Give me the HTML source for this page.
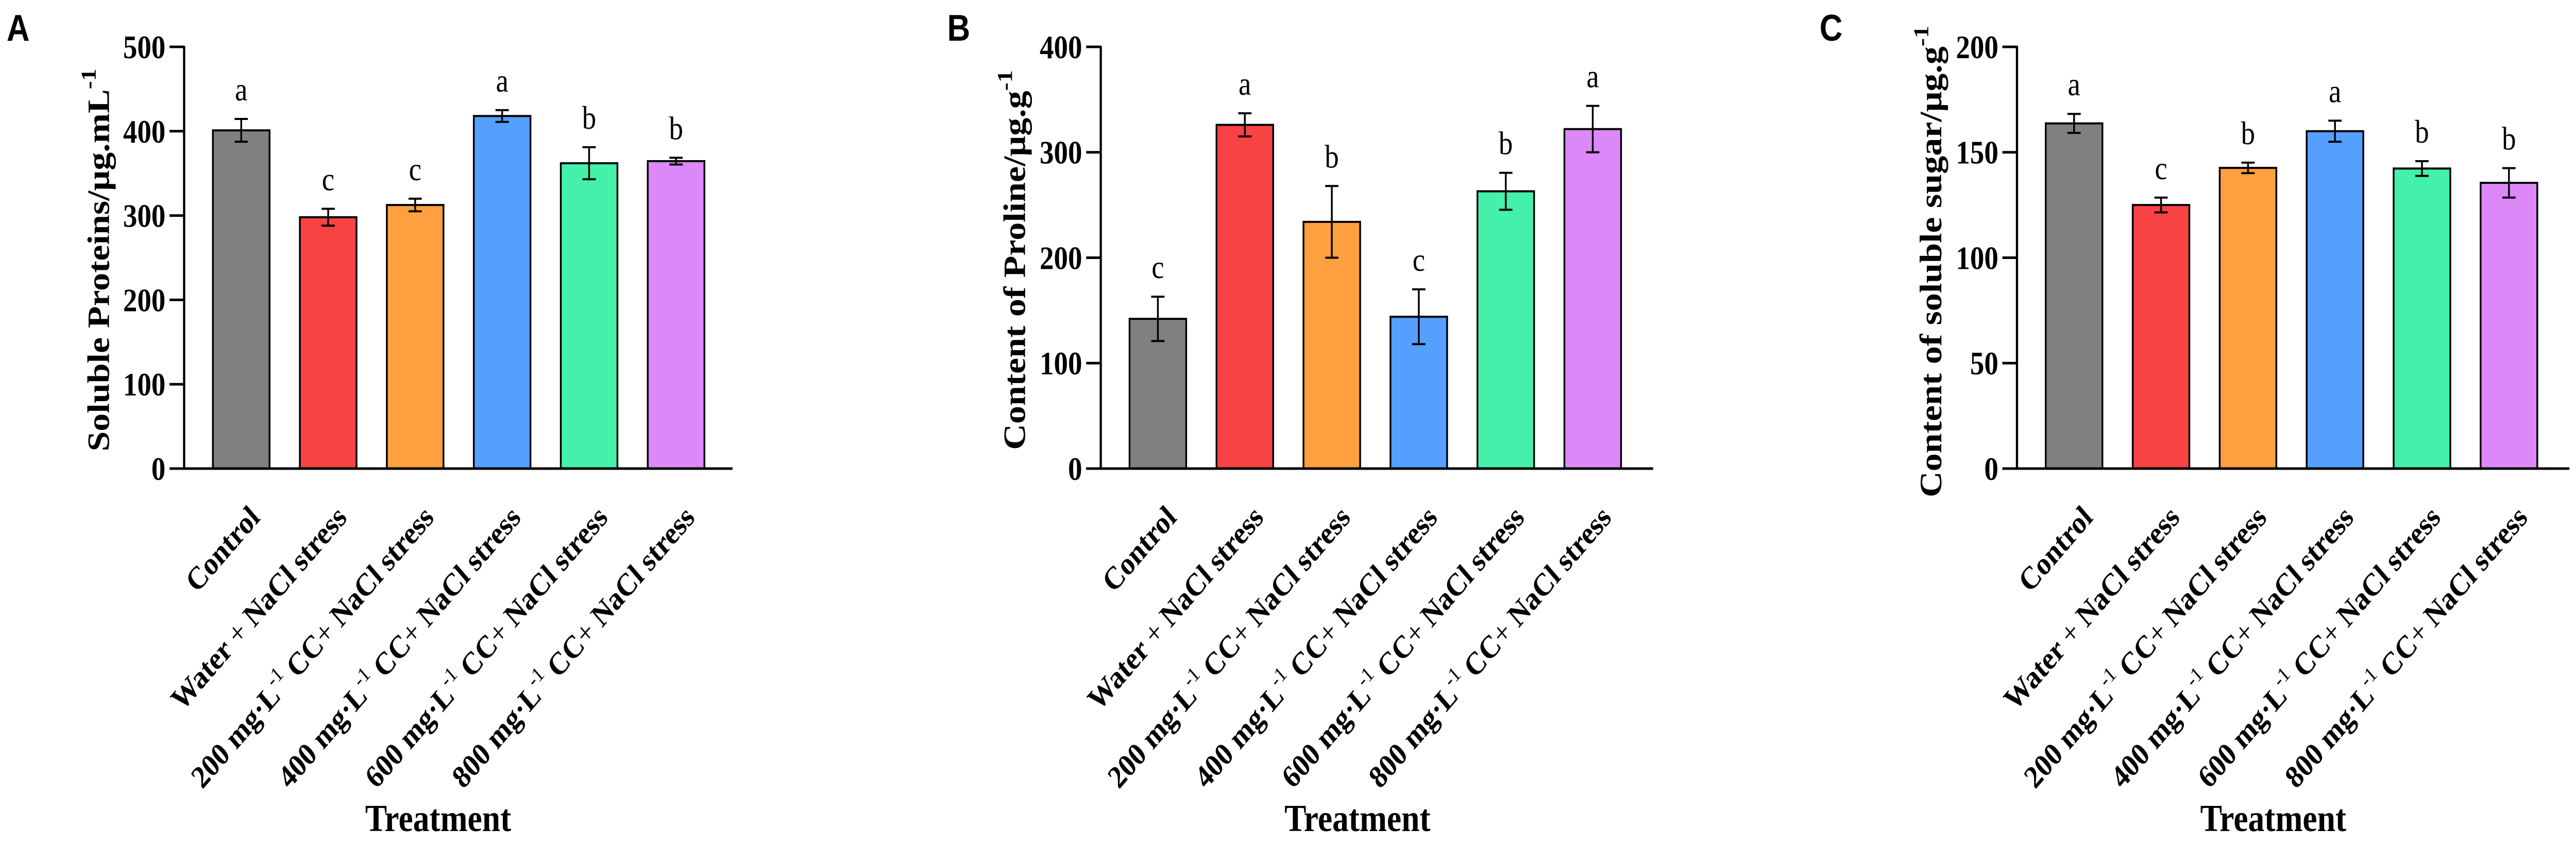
<!DOCTYPE html>
<html><head><meta charset="utf-8"><style>
html,body{margin:0;padding:0;background:#fff;width:100%;height:100%;overflow:hidden;}
svg{display:block;position:absolute;left:0;top:0;width:100vw;height:100vh;}
</style></head>
<body>
<svg id="fig" viewBox="0 0 5820 1643" preserveAspectRatio="none" xmlns="http://www.w3.org/2000/svg" font-family="Liberation Serif, Times New Roman, serif">
<rect x="0" y="0" width="5820" height="1643" fill="#fff"/>
</svg>
<script>
// ---------- data ----------
const categories = ["Control","Water + NaCl stress","200","400","600","800"];
const barColors = ["#808080","#F84244","#FFA040","#55A0FF","#44F0AA","#DD88F8"];

const proteinValues = [401, 298, 312.5, 418, 362, 364.5];
const proteinErrors = [13.5, 10, 7.5, 7, 19, 4];
const proteinLetters = ["a","c","c","a","b","b"];
const proteinTicks = [0,100,200,300,400,500];

const prolineValues = [142, 326, 234, 144, 263, 322];
const prolineErrors = [21, 11, 34, 26, 17.5, 22];
const prolineLetters = ["c","a","b","c","b","a"];
const prolineTicks = [0,100,200,300,400];

const sugarValues = [163.7, 125, 142.6, 160, 142.3, 135.5];
const sugarErrors = [4.5, 3.5, 2.5, 5, 3.5, 7];
const sugarLetters = ["a","c","b","a","b","b"];
const sugarTicks = [0,50,100,150,200];

const NS = "http://www.w3.org/2000/svg";
const svg = document.getElementById("fig");
function mk(tag, attrs, parent){
  const e = document.createElementNS(NS, tag);
  for (const k in attrs) e.setAttribute(k, attrs[k]);
  (parent||svg).appendChild(e);
  return e;
}

function drawPanel(cfg){
  const g = mk("g", {});
  
  
  const yTop = 91, yBot = 910;
  const yMax = cfg.ticks[cfg.ticks.length-1];
  const yScale = v => yBot - (v / yMax) * (yBot - yTop);
  const step = 196.5, bw = 128;
  const xCenter = i => cfg.axisX + 129 + i * step;

  const pl = mk("text", {x: cfg.labelX, y: 79, "font-family": "Liberation Sans, Arial, sans-serif", "font-weight": "bold", "font-size": 72, fill: "#000"}, g);
  pl.textContent = cfg.letter;
  
  

  cfg.values.forEach((v, i) => {
    const cx = xCenter(i);
    const r = mk("rect", {x: cx - bw/2, y: yScale(v), width: bw, height: yBot - yScale(v), fill: barColors[i], stroke: "#000", "stroke-width": 4}, g);
    
    
    const e = cfg.errors[i];
    const t = yScale(v + e), b = yScale(v - e);
    const eg = mk("g", {stroke: "#000", "stroke-width": 4}, g);
    
    
    mk("line", {x1: cx, x2: cx, y1: t, y2: b}, eg);
    mk("line", {x1: cx - 15, x2: cx + 15, y1: t, y2: t}, eg);
    mk("line", {x1: cx - 15, x2: cx + 15, y1: b, y2: b}, eg);
    const lt = mk("text", {x: cx, y: t - 36, "text-anchor": "middle", "font-size": 64, fill: "#000"}, g);
    lt.textContent = cfg.letters[i];
    
    

    const lx = cx + 45, ly = yBot + 98;
    const xl = mk("text", {x: lx, y: ly, "text-anchor": "end", "font-weight": "bold", "font-size": 62, fill: "#000", transform: `rotate(-45 ${lx} ${ly})`}, g);
    
    
    const c = categories[i];
    if (i === 0) { xl.textContent = c; }
    else if (i === 1) {
      mk("tspan", {}, xl).textContent = "Water ";
      mk("tspan", {"font-weight": "normal"}, xl).textContent = "+";
      mk("tspan", {}, xl).textContent = " NaCl stress";
    } else {
      mk("tspan", {}, xl).textContent = c + " mg·L";
      mk("tspan", {dy: -26, "font-size": 42, "font-weight": "normal"}, xl).textContent = "-1";
      mk("tspan", {dy: 26}, xl).textContent = " CC";
      mk("tspan", {"font-weight": "normal"}, xl).textContent = "+";
      mk("tspan", {}, xl).textContent = " NaCl stress";
    }
  });

  const ax = mk("g", {stroke: "#000", "stroke-width": 5}, g);
  
  
  mk("line", {x1: cfg.axisX, x2: cfg.axisX, y1: yTop - 2, y2: yBot + 2}, ax);
  mk("line", {x1: cfg.axisX - 33, x2: cfg.axisEnd, y1: yBot, y2: yBot}, ax);
  cfg.ticks.forEach(tv => {
    const y = yScale(tv);
    mk("line", {x1: cfg.axisX - 33, x2: cfg.axisX, y1: y, y2: y}, ax);
    const tl = mk("text", {x: cfg.axisX - 42, y: y + 22, "text-anchor": "end", "font-weight": "bold", "font-size": 64, fill: "#000"}, g);
    tl.textContent = tv;
    
    
  });

  const yt = mk("text", {x: cfg.titleX, y: cfg.titleY, "text-anchor": "middle", "font-weight": "bold", "font-size": 70, fill: "#000", transform: `rotate(-90 ${cfg.titleX} ${cfg.titleY})`}, g);
  
  
  mk("tspan", {}, yt).textContent = cfg.title;
  mk("tspan", {dy: -30, "font-size": 48}, yt).textContent = "-1";

  const xt = mk("text", {x: cfg.xTitleX, y: 1614, "text-anchor": "middle", "font-weight": "bold", "font-size": 74, fill: "#000"}, g);
  xt.textContent = "Treatment";
  
  
}

drawPanel({id: "soluble-proteins", letter: "A", labelX: 15, axisX: 416, axisEnd: 1655,
  values: proteinValues, errors: proteinErrors, letters: proteinLetters, ticks: proteinTicks,
  title: "Soluble Proteins/μg.mL", titleX: 246, titleY: 505, xTitleX: 990});
drawPanel({id: "proline", letter: "B", labelX: 2140, axisX: 2487, axisEnd: 3735,
  values: prolineValues, errors: prolineErrors, letters: prolineLetters, ticks: prolineTicks,
  title: "Content of  Proline/μg.g", titleX: 2316, titleY: 505, xTitleX: 3067});
drawPanel({id: "soluble-sugar", letter: "C", labelX: 4111, axisX: 4557, axisEnd: 5805,
  values: sugarValues, errors: sugarErrors, letters: sugarLetters, ticks: sugarTicks,
  title: "Content of soluble sugar/μg.g", titleX: 4386, titleY: 508, xTitleX: 5136});
</script>
</body></html>
